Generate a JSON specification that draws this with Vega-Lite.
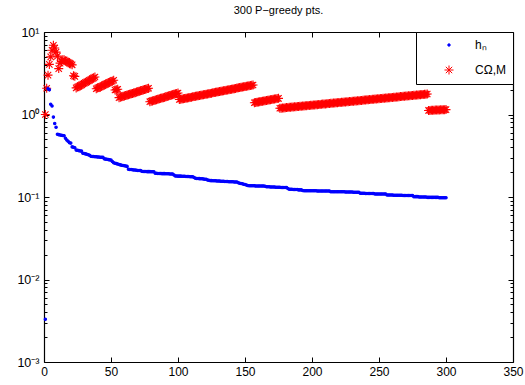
{
  "$schema": "https://vega.github.io/schema/vega-lite/v6.json",
  "width": 469,
  "height": 330,
  "autosize": {"type": "none"},
  "padding": {"left": 44, "top": 32, "right": 12, "bottom": 23},
  "background": "white",
  "title": {"text": "300 P\u2212greedy pts.", "font": "Liberation Sans", "fontSize": 11, "fontWeight": "normal", "color": "black", "offset": 10},
  "config": {
    "view": {"stroke": null},
    "legend": {"orient": "top-right", "offset": 0, "title": null, "strokeColor": "black", "fillColor": "white", "padding": 7, "labelFont": "Liberation Sans", "labelFontSize": 12, "labelColor": "black", "symbolOffset": 20, "labelOffset": 20, "rowPadding": 12, "symbolStrokeWidth": 1, "cornerRadius": 0}
  },
  "data": {"values": [
{"n":1,"h":0.0033,"c":1.0},{"n":2,"h":2.1,"c":2.08},{"n":3,"h":2.05,"c":3.0},{"n":4,"h":2.0,"c":4.05},{"n":5,"h":1.33,"c":5.0},
{"n":6,"h":1.27,"c":6.0},{"n":7,"h":0.93,"c":6.9},{"n":8,"h":0.78,"c":6.4},{"n":9,"h":0.70,"c":5.7},{"n":10,"h":0.575,"c":5.1},
{"n":11,"h":0.57,"c":3.6},{"n":12,"h":0.565,"c":4.2},{"n":13,"h":0.56,"c":4.4},{"n":14,"h":0.557,"c":4.6},{"n":15,"h":0.553,"c":4.6},
{"n":16,"h":0.515,"c":4.45},{"n":17,"h":0.49,"c":4.4},{"n":18,"h":0.475,"c":4.3},{"n":19,"h":0.455,"c":4.2},{"n":20,"h":0.45,"c":4.1},
{"n":21,"h":0.405,"c":4.0},{"n":22,"h":0.40,"c":2.95},{"n":23,"h":0.395,"c":2.9},{"n":24,"h":0.37,"c":2.10},{"n":25,"h":0.368,"c":2.15},
{"n":26,"h":0.365,"c":2.19},{"n":27,"h":0.362,"c":2.24},{"n":28,"h":0.36,"c":2.29},{"n":29,"h":0.34,"c":2.34},{"n":30,"h":0.337,"c":2.39},
{"n":31,"h":0.333,"c":2.44},{"n":32,"h":0.33,"c":2.49},{"n":33,"h":0.325,"c":2.55},{"n":34,"h":0.32,"c":2.60},{"n":35,"h":0.311,"c":2.66},
{"n":36,"h":0.31,"c":2.72},{"n":37,"h":0.309,"c":2.78},{"n":38,"h":0.308,"c":2.85},{"n":39,"h":0.307,"c":2.05},{"n":40,"h":0.306,"c":2.09},
{"n":41,"h":0.305,"c":2.13},{"n":42,"h":0.304,"c":2.16},{"n":43,"h":0.303,"c":2.20},{"n":44,"h":0.302,"c":2.24},{"n":45,"h":0.29,"c":2.29},
{"n":46,"h":0.288,"c":2.33},{"n":47,"h":0.286,"c":2.37},{"n":48,"h":0.284,"c":2.42},{"n":49,"h":0.282,"c":2.46},{"n":50,"h":0.28,"c":2.51},
{"n":51,"h":0.27,"c":2.55},{"n":52,"h":0.26,"c":2.60},{"n":53,"h":0.257,"c":1.98},{"n":54,"h":0.254,"c":2.0},{"n":55,"h":0.251,"c":2.02},
{"n":56,"h":0.248,"c":1.60},{"n":57,"h":0.245,"c":1.62},{"n":58,"h":0.243,"c":1.64},{"n":59,"h":0.241,"c":1.66},{"n":60,"h":0.239,"c":1.68},
{"n":61,"h":0.237,"c":1.70},{"n":62,"h":0.235,"c":1.72},{"n":63,"h":0.217,"c":1.74},{"n":64,"h":0.216,"c":1.76},{"n":65,"h":0.215,"c":1.78},
{"n":66,"h":0.214,"c":1.80},{"n":67,"h":0.213,"c":1.82},{"n":68,"h":0.212,"c":1.84},{"n":69,"h":0.211,"c":1.87},{"n":70,"h":0.210,"c":1.89},
{"n":71,"h":0.209,"c":1.91},{"n":72,"h":0.209,"c":1.94},{"n":73,"h":0.205,"c":1.96},{"n":74,"h":0.204,"c":1.98},{"n":75,"h":0.204,"c":2.01},
{"n":76,"h":0.204,"c":2.03},{"n":77,"h":0.203,"c":2.06},{"n":78,"h":0.203,"c":2.08},{"n":79,"h":0.203,"c":1.43},{"n":80,"h":0.202,"c":1.45},
{"n":81,"h":0.202,"c":1.46},{"n":82,"h":0.202,"c":1.48},{"n":83,"h":0.194,"c":1.50},{"n":84,"h":0.194,"c":1.51},{"n":85,"h":0.193,"c":1.53},
{"n":86,"h":0.193,"c":1.55},{"n":87,"h":0.193,"c":1.57},{"n":88,"h":0.192,"c":1.58},{"n":89,"h":0.192,"c":1.60},{"n":90,"h":0.192,"c":1.62},
{"n":91,"h":0.191,"c":1.64},{"n":92,"h":0.191,"c":1.66},{"n":93,"h":0.191,"c":1.68},{"n":94,"h":0.190,"c":1.70},{"n":95,"h":0.190,"c":1.72},
{"n":96,"h":0.190,"c":1.74},{"n":97,"h":0.185,"c":1.76},{"n":98,"h":0.180,"c":1.78},{"n":99,"h":0.180,"c":1.80},{"n":100,"h":0.179,"c":1.82},
{"n":101,"h":0.179,"c":1.520},{"n":102,"h":0.179,"c":1.531},{"n":103,"h":0.178,"c":1.543},{"n":104,"h":0.178,"c":1.554},{"n":105,"h":0.178,"c":1.565},
{"n":106,"h":0.177,"c":1.577},{"n":107,"h":0.177,"c":1.589},{"n":108,"h":0.177,"c":1.601},{"n":109,"h":0.176,"c":1.612},{"n":110,"h":0.176,"c":1.624},
{"n":111,"h":0.176,"c":1.637},{"n":112,"h":0.172,"c":1.649},{"n":113,"h":0.169,"c":1.661},{"n":114,"h":0.168,"c":1.673},{"n":115,"h":0.168,"c":1.686},
{"n":116,"h":0.167,"c":1.698},{"n":117,"h":0.166,"c":1.711},{"n":118,"h":0.166,"c":1.723},{"n":119,"h":0.165,"c":1.736},{"n":120,"h":0.164,"c":1.749},
{"n":121,"h":0.164,"c":1.762},{"n":122,"h":0.161,"c":1.775},{"n":123,"h":0.160,"c":1.788},{"n":124,"h":0.158,"c":1.802},{"n":125,"h":0.158,"c":1.815},
{"n":126,"h":0.157,"c":1.829},{"n":127,"h":0.157,"c":1.842},{"n":128,"h":0.157,"c":1.856},{"n":129,"h":0.156,"c":1.869},{"n":130,"h":0.156,"c":1.883},
{"n":131,"h":0.156,"c":1.897},{"n":132,"h":0.155,"c":1.911},{"n":133,"h":0.155,"c":1.925},{"n":134,"h":0.155,"c":1.939},{"n":135,"h":0.154,"c":1.954},
{"n":136,"h":0.154,"c":1.968},{"n":137,"h":0.154,"c":1.983},{"n":138,"h":0.153,"c":1.997},{"n":139,"h":0.153,"c":2.012},{"n":140,"h":0.153,"c":2.027},
{"n":141,"h":0.153,"c":2.042},{"n":142,"h":0.152,"c":2.057},{"n":143,"h":0.152,"c":2.072},{"n":144,"h":0.152,"c":2.088},{"n":145,"h":0.149,"c":2.103},
{"n":146,"h":0.147,"c":2.118},{"n":147,"h":0.146,"c":2.134},{"n":148,"h":0.145,"c":2.150},{"n":149,"h":0.143,"c":2.166},{"n":150,"h":0.142,"c":2.182},
{"n":151,"h":0.140,"c":2.198},{"n":152,"h":0.138,"c":2.214},{"n":153,"h":0.137,"c":2.230},{"n":154,"h":0.137,"c":2.247},{"n":155,"h":0.137,"c":2.263},
{"n":156,"h":0.137,"c":2.280},{"n":157,"h":0.137,"c":1.39},{"n":158,"h":0.136,"c":1.40},{"n":159,"h":0.136,"c":1.41},{"n":160,"h":0.136,"c":1.42},
{"n":161,"h":0.136,"c":1.43},{"n":162,"h":0.136,"c":1.44},{"n":163,"h":0.136,"c":1.45},{"n":164,"h":0.136,"c":1.46},{"n":165,"h":0.135,"c":1.47},
{"n":166,"h":0.133,"c":1.48},{"n":167,"h":0.133,"c":1.49},{"n":168,"h":0.133,"c":1.50},{"n":169,"h":0.132,"c":1.51},{"n":170,"h":0.132,"c":1.52},
{"n":171,"h":0.132,"c":1.53},{"n":172,"h":0.132,"c":1.54},{"n":173,"h":0.131,"c":1.55},{"n":174,"h":0.131,"c":1.56},{"n":175,"h":0.131,"c":1.57},
{"n":176,"h":0.131,"c":1.190},{"n":177,"h":0.130,"c":1.194},{"n":178,"h":0.130,"c":1.199},{"n":179,"h":0.130,"c":1.203},{"n":180,"h":0.130,"c":1.207},
{"n":181,"h":0.130,"c":1.212},{"n":182,"h":0.127,"c":1.216},{"n":183,"h":0.124,"c":1.221},{"n":184,"h":0.124,"c":1.225},{"n":185,"h":0.124,"c":1.230},
{"n":186,"h":0.123,"c":1.234},{"n":187,"h":0.123,"c":1.239},{"n":188,"h":0.123,"c":1.243},{"n":189,"h":0.123,"c":1.248},{"n":190,"h":0.122,"c":1.252},
{"n":191,"h":0.122,"c":1.256},{"n":192,"h":0.122,"c":1.261},{"n":193,"h":0.120,"c":1.266},{"n":194,"h":0.119,"c":1.270},{"n":195,"h":0.119,"c":1.275},
{"n":196,"h":0.119,"c":1.279},{"n":197,"h":0.119,"c":1.284},{"n":198,"h":0.119,"c":1.288},{"n":199,"h":0.119,"c":1.293},{"n":200,"h":0.119,"c":1.298},
{"n":201,"h":0.119,"c":1.302},{"n":202,"h":0.119,"c":1.307},{"n":203,"h":0.119,"c":1.312},{"n":204,"h":0.118,"c":1.316},{"n":205,"h":0.118,"c":1.321},
{"n":206,"h":0.118,"c":1.326},{"n":207,"h":0.118,"c":1.331},{"n":208,"h":0.118,"c":1.336},{"n":209,"h":0.118,"c":1.340},{"n":210,"h":0.118,"c":1.345},
{"n":211,"h":0.118,"c":1.350},{"n":212,"h":0.118,"c":1.355},{"n":213,"h":0.118,"c":1.360},{"n":214,"h":0.116,"c":1.365},{"n":215,"h":0.116,"c":1.370},
{"n":216,"h":0.116,"c":1.375},{"n":217,"h":0.116,"c":1.380},{"n":218,"h":0.116,"c":1.385},{"n":219,"h":0.116,"c":1.390},{"n":220,"h":0.116,"c":1.395},
{"n":221,"h":0.116,"c":1.400},{"n":222,"h":0.116,"c":1.405},{"n":223,"h":0.116,"c":1.410},{"n":224,"h":0.116,"c":1.415},{"n":225,"h":0.115,"c":1.420},
{"n":226,"h":0.115,"c":1.425},{"n":227,"h":0.115,"c":1.430},{"n":228,"h":0.115,"c":1.435},{"n":229,"h":0.115,"c":1.441},{"n":230,"h":0.115,"c":1.446},
{"n":231,"h":0.114,"c":1.451},{"n":232,"h":0.114,"c":1.456},{"n":233,"h":0.114,"c":1.462},{"n":234,"h":0.114,"c":1.467},{"n":235,"h":0.114,"c":1.472},
{"n":236,"h":0.111,"c":1.478},{"n":237,"h":0.111,"c":1.483},{"n":238,"h":0.111,"c":1.489},{"n":239,"h":0.111,"c":1.494},{"n":240,"h":0.110,"c":1.500},
{"n":241,"h":0.110,"c":1.505},{"n":242,"h":0.110,"c":1.510},{"n":243,"h":0.110,"c":1.516},{"n":244,"h":0.110,"c":1.521},{"n":245,"h":0.110,"c":1.527},
{"n":246,"h":0.110,"c":1.532},{"n":247,"h":0.109,"c":1.538},{"n":248,"h":0.109,"c":1.543},{"n":249,"h":0.109,"c":1.549},{"n":250,"h":0.109,"c":1.555},
{"n":251,"h":0.109,"c":1.560},{"n":252,"h":0.109,"c":1.566},{"n":253,"h":0.109,"c":1.571},{"n":254,"h":0.109,"c":1.577},{"n":255,"h":0.109,"c":1.583},
{"n":256,"h":0.106,"c":1.588},{"n":257,"h":0.106,"c":1.594},{"n":258,"h":0.106,"c":1.600},{"n":259,"h":0.106,"c":1.606},{"n":260,"h":0.106,"c":1.611},
{"n":261,"h":0.105,"c":1.617},{"n":262,"h":0.105,"c":1.623},{"n":263,"h":0.105,"c":1.629},{"n":264,"h":0.105,"c":1.635},{"n":265,"h":0.105,"c":1.641},
{"n":266,"h":0.105,"c":1.647},{"n":267,"h":0.105,"c":1.653},{"n":268,"h":0.104,"c":1.659},{"n":269,"h":0.104,"c":1.665},{"n":270,"h":0.104,"c":1.671},
{"n":271,"h":0.104,"c":1.677},{"n":272,"h":0.104,"c":1.683},{"n":273,"h":0.104,"c":1.689},{"n":274,"h":0.104,"c":1.695},{"n":275,"h":0.104,"c":1.701},
{"n":276,"h":0.101,"c":1.707},{"n":277,"h":0.101,"c":1.713},{"n":278,"h":0.101,"c":1.719},{"n":279,"h":0.101,"c":1.725},{"n":280,"h":0.100,"c":1.731},
{"n":281,"h":0.100,"c":1.738},{"n":282,"h":0.100,"c":1.744},{"n":283,"h":0.100,"c":1.750},{"n":284,"h":0.100,"c":1.757},{"n":285,"h":0.100,"c":1.763},
{"n":286,"h":0.099,"c":1.770},{"n":287,"h":0.099,"c":1.120},{"n":288,"h":0.099,"c":1.122},{"n":289,"h":0.099,"c":1.124},{"n":290,"h":0.099,"c":1.126},
{"n":291,"h":0.099,"c":1.128},{"n":292,"h":0.099,"c":1.130},{"n":293,"h":0.099,"c":1.132},{"n":294,"h":0.099,"c":1.134},{"n":295,"h":0.098,"c":1.136},
{"n":296,"h":0.098,"c":1.138},{"n":297,"h":0.098,"c":1.140},{"n":298,"h":0.098,"c":1.142},{"n":299,"h":0.098,"c":1.144},{"n":300,"h":0.098,"c":1.146}
  ]},
  "transform": [{"fold": ["h", "c"], "as": ["series", "value"]}],
  "layer": [
    {
      "mark": {"type": "point", "strokeWidth": 1.1, "opacity": 1},
      "encoding": {
        "x": {"field": "n", "type": "quantitative", "scale": {"domain": [0, 350], "nice": false},
          "axis": {"orient": "bottom", "values": [0, 50, 100, 150, 200, 250, 300, 350], "title": null, "grid": false, "domainColor": "black", "domainWidth": 1.2, "tickColor": "black", "tickWidth": 1, "tickSize": -5, "labelPadding": 9, "labelFont": "Liberation Sans", "labelFontSize": 12, "labelColor": "black", "labelFlush": false, "labelOverlap": false}},
        "y": {"field": "value", "type": "quantitative", "scale": {"type": "log", "domain": [0.001, 10], "nice": false},
          "axis": {"orient": "left", "values": [0.001,0.002,0.003,0.004,0.005,0.006,0.007,0.008,0.009,0.01,0.02,0.03,0.04,0.05,0.06,0.07,0.08,0.09,0.1,0.2,0.3,0.4,0.5,0.6,0.7,0.8,0.9,1,2,3,4,5,6,7,8,9,10],
            "labelExpr": "datum.value == 0.001 ? '10\u207b\u00b3' : datum.value == 0.01 ? '10\u207b\u00b2' : datum.value == 0.1 ? '10\u207b\u00b9' : datum.value == 1 ? '10\u2070' : datum.value == 10 ? '10\u00b9' : ''",
            "title": null, "grid": false, "domainColor": "black", "domainWidth": 1.2, "tickColor": "black", "tickWidth": 1,
            "tickSize": {"condition": {"test": "indexof([0.001,0.01,0.1,1,10], datum.value) >= 0", "value": -5}, "value": -3},
            "labelPadding": 10, "labelFont": "Liberation Sans", "labelFontSize": 12.5, "labelColor": "black", "labelFlush": false, "labelOverlap": false}},
        "fill": {"field": "series", "type": "nominal", "scale": {"domain": ["h", "c"], "range": ["#0000ff", "transparent"]}},
        "stroke": {"field": "series", "type": "nominal", "scale": {"domain": ["h", "c"], "range": ["#0000ff", "#ff0000"]},
          "legend": {"labelExpr": "datum.label == 'h' ? 'h\u2099' : 'C\u03a9,M'"}},
        "shape": {"field": "series", "type": "nominal", "scale": {"domain": ["h", "c"], "range": ["circle", "M-1,0L1,0M0,-1L0,1M-0.7071,-0.7071L0.7071,0.7071M-0.7071,0.7071L0.7071,-0.7071"]}},
        "size": {"field": "series", "type": "nominal", "scale": {"domain": ["h", "c"], "range": [6, 81]}}
      }
    },
    {
      "mark": {"type": "point", "opacity": 0},
      "encoding": {
        "x": {"field": "n", "type": "quantitative",
          "axis": {"orient": "top", "values": [0, 50, 100, 150, 200, 250, 300, 350], "title": null, "grid": false, "labels": false, "domainColor": "black", "domainWidth": 1.2, "tickColor": "black", "tickWidth": 1, "tickSize": -5}},
        "y": {"field": "value", "type": "quantitative",
          "axis": {"orient": "right", "values": [0.001,0.002,0.003,0.004,0.005,0.006,0.007,0.008,0.009,0.01,0.02,0.03,0.04,0.05,0.06,0.07,0.08,0.09,0.1,0.2,0.3,0.4,0.5,0.6,0.7,0.8,0.9,1,2,3,4,5,6,7,8,9,10],
            "title": null, "grid": false, "labels": false, "domainColor": "black", "domainWidth": 1.2, "tickColor": "black", "tickWidth": 1,
            "tickSize": {"condition": {"test": "indexof([0.001,0.01,0.1,1,10], datum.value) >= 0", "value": -5}, "value": -3}}}
      }
    }
  ],
  "resolve": {"axis": {"x": "independent", "y": "independent"}}
}
